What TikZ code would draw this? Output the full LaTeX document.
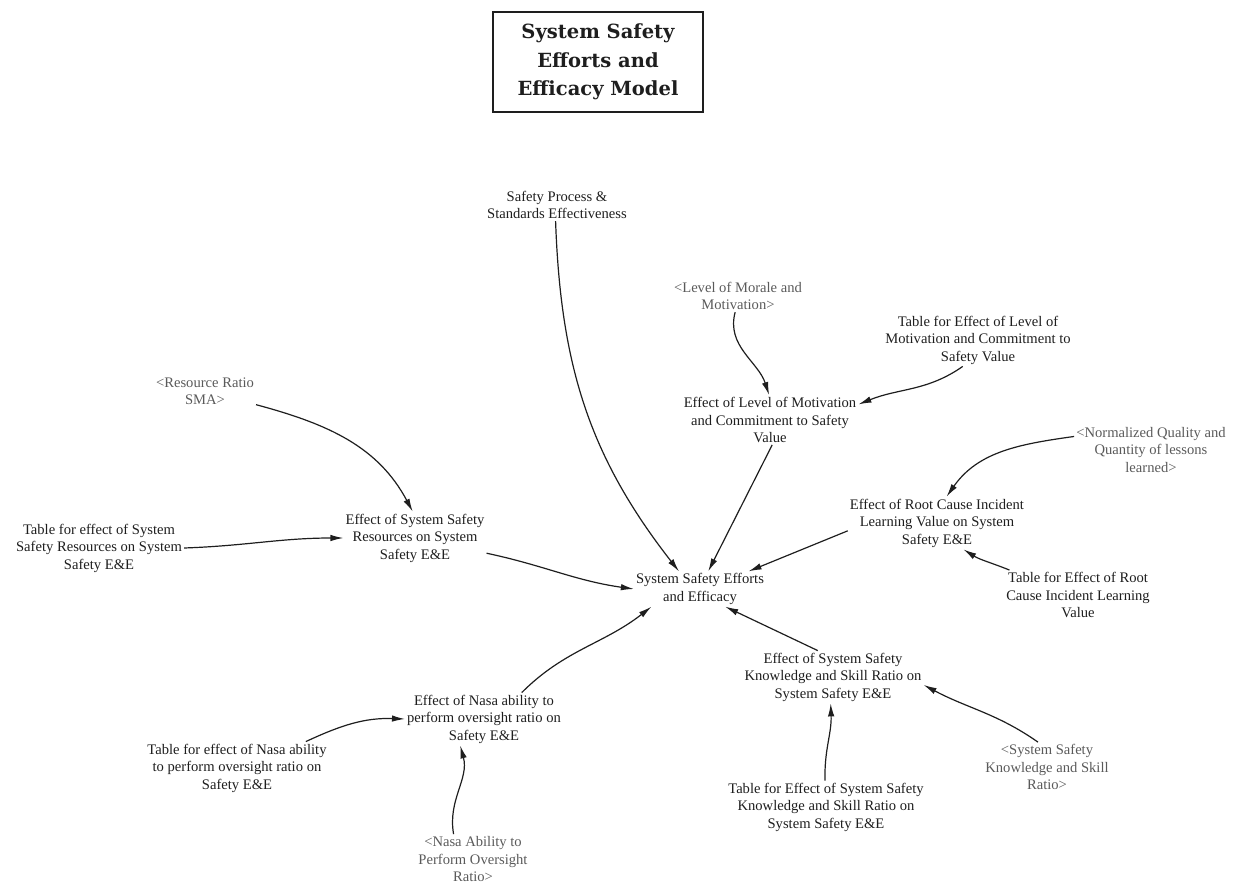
\documentclass[tikz,border=0pt]{standalone}
\usepackage{fontspec}
\setmainfont{Liberation Serif}
\newfontfamily\titlefont{DejaVu Serif}
\usetikzlibrary{arrows.meta}
\definecolor{ink}{HTML}{1E1E1E}
\definecolor{shadowtxt}{HTML}{5A5A5A}
\begin{document}
\begin{tikzpicture}[x=1pt,y=-1pt,
  var/.style={align=center,inner sep=2pt,text=ink,font=\fontsize{14.6}{17.5}\selectfont},
  shadow/.style={var,text=shadowtxt},
  link/.style={draw=ink,line width=1.2pt,-{Latex[length=13pt,width=6.5pt]}},
  titlebox/.style={draw=ink,line width=1.4pt,align=center,minimum width=210pt,minimum height=100pt,
    font=\titlefont\fontsize{19.5}{28.5}\selectfont\bfseries,text=ink}]
\useasboundingbox (0,0) rectangle (1240,888);

% title
\node[titlebox] (title) at (598,62) {System Safety\\Efforts and\\Efficacy Model};

% variables
\node[var] (sp) at (557,205) {Safety Process \&\\Standards Effectiveness};
\node[shadow] (morale) at (738,296) {<Level of Morale and\\Motivation>};
\node[var] (tlev) at (978,340) {Table for Effect of Level of\\Motivation and Commitment to\\Safety Value};
\node[var] (elev) at (770,420) {Effect of Level of Motivation\\and Commitment to Safety\\Value};
\node[shadow] (rr) at (205,391) {<Resource Ratio\\SMA>};
\node[shadow] (norm) at (1151,450) {<Normalized Quality and\\Quantity of lessons\\learned>};
\node[var] (eroot) at (937,523) {Effect of Root Cause Incident\\Learning Value on System\\Safety E\&E};
\node[var] (tres) at (99,548) {Table for effect of System\\Safety Resources on System\\Safety E\&E};
\node[var] (eres) at (415,538) {Effect of System Safety\\Resources on System\\Safety E\&E};
\node[var] (sse) at (700,589) {System Safety Efforts\\and Efficacy};
\node[var] (troot) at (1078,595) {Table for Effect of Root\\Cause Incident Learning\\Value};
\node[var] (eknow) at (833,677) {Effect of System Safety\\Knowledge and Skill Ratio on\\System Safety E\&E};
\node[var] (enasa) at (484,719) {Effect of Nasa ability to\\perform oversight ratio on\\Safety E\&E};
\node[var] (tnasa) at (237,768) {Table for effect of Nasa ability\\to perform oversight ratio on\\Safety E\&E};
\node[shadow] (kratio) at (1047,767) {<System Safety\\Knowledge and Skill\\Ratio>};
\node[var] (tknow) at (826,807) {Table for Effect of System Safety\\Knowledge and Skill Ratio on\\System Safety E\&E};
\node[shadow] (nasa) at (473,859) {<Nasa Ability to\\Perform Oversight\\Ratio>};

% links
\draw[link] (rr.-15) to[out=-15,in=118] (eres.95);
\draw[link] (tres.east) to[out=2,in=180] (eres.west);
\draw[link] (eres.-12) to[out=-12,in=172] (sse.west);
\draw[link] (sp.-95) to[out=-88,in=128] (sse.140);
\draw[link] (morale.-100) to[out=-105,in=108] (elev.92);
\draw[link] (tlev.-120) to[out=-145,in=22] (elev.10);
\draw[link] (elev.-85) -- (sse.65);
\draw[link] (norm.170) to[out=188,in=55] (eroot.70);
\draw[link] (eroot.-175) -- (sse.20);
\draw[link] (troot.160) to[out=158,in=-32] (eroot.-45);
\draw[link] (eknow.120) -- (sse.-35);
\draw[link] (kratio.110) to[out=145,in=-28] (eknow.-5);
\draw[link] (tknow.92) to[out=92,in=-88] (eknow.-95);
\draw[link] (enasa.35) to[out=45,in=-142] (sse.-160);
\draw[link] (tnasa.21) to[out=25,in=178] (enasa.180);
\draw[link] (nasa.128) to[out=100,in=-75] (enasa.-132);
\end{tikzpicture}
\end{document}
